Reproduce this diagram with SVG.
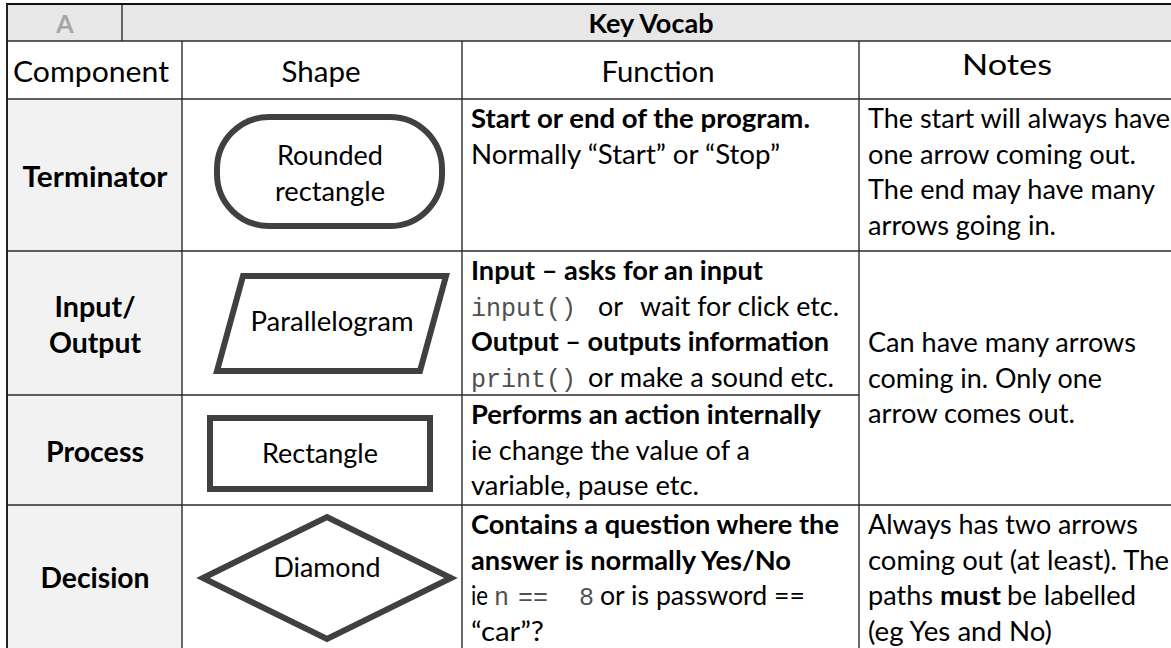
<svg xmlns="http://www.w3.org/2000/svg" width="1171" height="648" viewBox="0 0 1171 648">
<style>
.t{font-family:Lato,"Liberation Sans",sans-serif;fill:#000}
.r{font-size:26px}
.b{font-size:26px;font-weight:700}
.h{font-size:29px}
.c{font-size:28px;font-weight:700;text-anchor:middle}
.mid{text-anchor:middle}
.m{font-family:"Liberation Mono","DejaVu Sans Mono",monospace;font-size:25px;fill:#505050}
.shape{fill:#fff;stroke:#404040;stroke-width:6}
.ln{stroke:#2a2a2a;stroke-width:1.4}
</style>
<g id="grid">
<rect x="7" y="4" width="1164" height="37" fill="#e7e7e7"/>
<rect x="7" y="99" width="175" height="549" fill="#f2f2f2"/>
<line class="ln" x1="7" y1="41" x2="1171" y2="41" stroke-width="2"/>
<line class="ln" x1="122" y1="4" x2="122" y2="41"/>
<line class="ln" x1="182" y1="41" x2="182" y2="648"/>
<line class="ln" x1="462" y1="41" x2="462" y2="648"/>
<line class="ln" x1="859" y1="41" x2="859" y2="648"/>
<line class="ln" x1="7" y1="99" x2="1171" y2="99"/>
<line class="ln" x1="7" y1="251" x2="1171" y2="251"/>
<line class="ln" x1="7" y1="395" x2="859" y2="395"/>
<line class="ln" x1="7" y1="505" x2="1171" y2="505"/>
<line x1="6" y1="4" x2="1171" y2="4" stroke="#111" stroke-width="2"/>
<line x1="7" y1="4" x2="7" y2="648" stroke="#222" stroke-width="2"/>
</g>
<g id="header">
<text class="t mid" x="65" y="33" font-size="25" font-weight="700" style="fill:#a6a6a6">A</text>
<text class="t b mid" x="651" y="33" textLength="125" lengthAdjust="spacingAndGlyphs">Key Vocab</text>
<text class="t h mid" x="91" y="82" textLength="156" lengthAdjust="spacingAndGlyphs">Component</text>
<text class="t h mid" x="321" y="82" textLength="79" lengthAdjust="spacingAndGlyphs">Shape</text>
<text class="t h mid" x="658" y="82" textLength="113" lengthAdjust="spacingAndGlyphs">Function</text>
<text class="t mid" x="1007" y="75" font-size="28" textLength="90" lengthAdjust="spacingAndGlyphs">Notes</text>
</g>
<g id="terminator">
<text class="t c" x="95" y="187" textLength="145" lengthAdjust="spacingAndGlyphs">Terminator</text>
<rect class="shape" x="217" y="117" width="225" height="109" rx="52"/>
<text class="t r mid" x="330" y="165" textLength="106" lengthAdjust="spacingAndGlyphs">Rounded</text>
<text class="t r mid" x="330" y="201" textLength="110" lengthAdjust="spacingAndGlyphs">rectangle</text>
<text class="t b" x="471" y="128" textLength="339" lengthAdjust="spacingAndGlyphs">Start or end of the program.</text>
<text class="t r" x="471" y="163.5" textLength="309" lengthAdjust="spacingAndGlyphs">Normally “Start” or “Stop”</text>
<text class="t r" x="868" y="128" textLength="302" lengthAdjust="spacingAndGlyphs">The start will always have</text>
<text class="t r" x="868" y="163.5" textLength="268" lengthAdjust="spacingAndGlyphs">one arrow coming out.</text>
<text class="t r" x="868" y="199" textLength="287" lengthAdjust="spacingAndGlyphs">The end may have many</text>
<text class="t r" x="868" y="234.5" textLength="188" lengthAdjust="spacingAndGlyphs">arrows going in.</text>
</g>
<g id="input-output">
<text class="t c" x="95" y="317" textLength="81" lengthAdjust="spacingAndGlyphs">Input/</text>
<text class="t c" x="95" y="353" textLength="92" lengthAdjust="spacingAndGlyphs">Output</text>
<polygon class="shape" points="243,276 446,276 420,371 217,371"/>
<text class="t r mid" x="332" y="331" textLength="163" lengthAdjust="spacingAndGlyphs">Parallelogram</text>
<text class="t b" x="471" y="280" textLength="292" lengthAdjust="spacingAndGlyphs">Input – asks for an input</text>
<text class="m" x="471" y="315.5">input()</text>
<text class="t r" x="598" y="315.5" textLength="25" lengthAdjust="spacingAndGlyphs">or</text>
<text class="t r" x="640" y="315.5" textLength="199" lengthAdjust="spacingAndGlyphs">wait for click etc.</text>
<text class="t b" x="471" y="351" textLength="358" lengthAdjust="spacingAndGlyphs">Output – outputs information</text>
<text class="m" x="471" y="386.5">print()</text>
<text class="t r" x="588" y="386.5" textLength="246" lengthAdjust="spacingAndGlyphs">or make a sound etc.</text>
<text class="t r" x="868" y="352" textLength="268" lengthAdjust="spacingAndGlyphs">Can have many arrows</text>
<text class="t r" x="868" y="387.5" textLength="234" lengthAdjust="spacingAndGlyphs">coming in. Only one</text>
<text class="t r" x="868" y="423" textLength="207" lengthAdjust="spacingAndGlyphs">arrow comes out.</text>
</g>
<g id="process">
<text class="t c" x="95" y="462" textLength="98" lengthAdjust="spacingAndGlyphs">Process</text>
<rect class="shape" x="210" y="418" width="220" height="71"/>
<text class="t r mid" x="320" y="463" textLength="116" lengthAdjust="spacingAndGlyphs">Rectangle</text>
<text class="t b" x="471" y="424" textLength="350" lengthAdjust="spacingAndGlyphs">Performs an action internally</text>
<text class="t r" x="471" y="459.5" textLength="279" lengthAdjust="spacingAndGlyphs">ie change the value of a</text>
<text class="t r" x="471" y="495" textLength="228" lengthAdjust="spacingAndGlyphs">variable, pause etc.</text>
</g>
<g id="decision">
<text class="t c" x="95" y="588" textLength="109" lengthAdjust="spacingAndGlyphs">Decision</text>
<polygon class="shape" points="203,578 327,517 451,578 327,639"/>
<text class="t r mid" x="327" y="577" textLength="107" lengthAdjust="spacingAndGlyphs">Diamond</text>
<text class="t b" x="471" y="534" textLength="368" lengthAdjust="spacingAndGlyphs">Contains a question where the</text>
<text class="t b" x="471" y="569.5" textLength="320" lengthAdjust="spacingAndGlyphs">answer is normally Yes/No</text>
<text class="t r" x="471" y="605" textLength="17" lengthAdjust="spacingAndGlyphs">ie</text>
<text class="m" x="494" y="605">n</text>
<text class="m" x="518" y="605">==</text>
<text class="m" x="579" y="605">8</text>
<text class="t r" x="600" y="605" textLength="205" lengthAdjust="spacingAndGlyphs">or is password ==</text>
<text class="t r" x="471" y="640.5" textLength="73" lengthAdjust="spacingAndGlyphs">“car”?</text>
<text class="t r" x="868" y="534" textLength="270" lengthAdjust="spacingAndGlyphs">Always has two arrows</text>
<text class="t r" x="868" y="569.5" textLength="301" lengthAdjust="spacingAndGlyphs">coming out (at least). The</text>
<text class="t r" x="868" y="605" textLength="65" lengthAdjust="spacingAndGlyphs">paths</text>
<text class="t b" x="940" y="605" textLength="61" lengthAdjust="spacingAndGlyphs">must</text>
<text class="t r" x="1007" y="605" textLength="129" lengthAdjust="spacingAndGlyphs"> be labelled</text>
<text class="t r" x="868" y="640.5" textLength="184" lengthAdjust="spacingAndGlyphs">(eg Yes and No)</text>
</g>
</svg>
